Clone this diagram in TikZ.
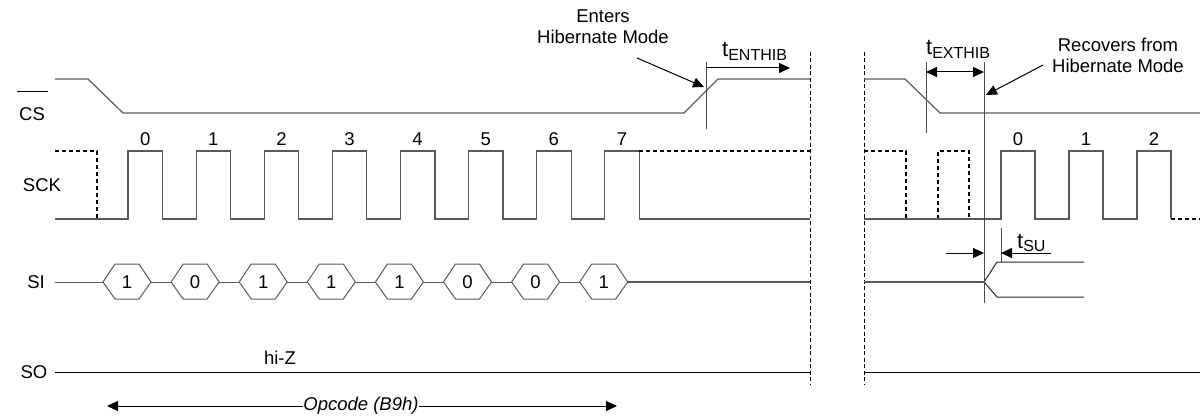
\documentclass[tikz,border=0pt]{standalone}
\usepackage{fontspec}
\setmainfont{Liberation Sans}
\usetikzlibrary{arrows.meta}
\definecolor{wavegray}{HTML}{5A5A5A}
\newcommand{\tsub}[1]{{\fontsize{22}{22}\selectfont t}\raisebox{-0.2em}{\fontsize{16}{16}\selectfont #1}}
\begin{document}
\begin{tikzpicture}[x=1pt,y=-1pt,
  every node/.style={font=\fontsize{18.5}{21}\selectfont, inner sep=0pt},
  wave/.style={draw=wavegray, line width=1.2pt},
  dwave/.style={draw=black, line width=1.1pt, dash pattern=on 4pt off 3pt},
  tline/.style={draw=black!70, line width=1pt},
  arr/.style={draw=black, line width=1pt, -{Triangle[length=11pt,width=10pt]}},
  darr/.style={draw=black, line width=1pt, {Triangle[length=11pt,width=10pt]}-{Triangle[length=11pt,width=10pt]}},
  sep/.style={draw=black, line width=1pt, dash pattern=on 4pt off 2.5pt}]
\useasboundingbox (0,0) rectangle (1200,417);

% signal labels
\node (lcs) at (32,114) {CS};
\draw[black, line width=1pt] (17,92) -- (48,92);
\node (lsck) at (42,185) {SCK};
\node (lsi) at (36,282) {SI};
\node (lso) at (34,372) {SO};

% separators
\draw[sep] (810,52) -- (810,385);
\draw[sep] (864,52) -- (864,385);

% CS waveform
\draw[wave] (55,79) -- (88,79) -- (123,113) -- (684,113) -- (718,79) -- (810,79);
\draw[wave] (864,79) -- (905,79) -- (940,113) -- (1200,113);

% SCK left
\draw[dwave] (55,151) -- (97,151) -- (97,219);
\draw[wave] (55,219)
  \foreach \i in {0,...,7}{ -- ({128+68.1*\i},219) -- ({128+68.1*\i},151) -- ({162.5+68.1*\i},151) -- ({162.5+68.1*\i},219) }
  -- (810,219);
\draw[dwave] (639,151) -- (810,151);
\foreach \i in {0,...,7}{
  \node (n\i) at ({145.2+68.1*\i},139) {\i};
}
% SCK right
\draw[dwave] (864,151) -- (906,151) -- (906,219);
\draw[dwave] (938,219) -- (938,151) -- (969,151) -- (969,219);
\draw[wave] (864,219)
  \foreach \i in {0,1,2}{ -- ({1001+68*\i},219) -- ({1001+68*\i},151) -- ({1035+68*\i},151) -- ({1035+68*\i},219) };
\draw[dwave] (1171,219) -- (1200,219);
\foreach \i in {0,1,2}{
  \node (m\i) at ({1018+68*\i},139) {\i};
}

% SI left
\draw[wave, line width=1pt] (55,282) -- (103,282);
\foreach \b [count=\i from 0] in {1,0,1,1,1,0,0,1}{
  \pgfmathsetmacro{\cx}{127+68.1*\i}
  \draw[wave, line width=1pt] (\cx-24,282) -- (\cx-12,264) -- (\cx+12,264) -- (\cx+24,282) -- (\cx+12,299) -- (\cx-12,299) -- cycle;
  \node (b\i) at (\cx,282) {\b};
}
\foreach \i in {0,...,6}{
  \draw[wave, line width=1pt] ({127+68.1*\i+24},282) -- ({127+68.1*(\i+1)-24},282);
}
\draw[wave] (627.7,282) -- (810,282);

% SI right
\draw[wave] (864,282) -- (984,282);
\draw[black!85, line width=1pt] (1084,262) -- (997,262) -- (984,282) -- (997,297) -- (1084,297);

% SO
\draw[black, line width=1pt] (55,372) -- (810,372);
\draw[black, line width=1pt] (864,372) -- (1200,372);
\node (hiz) at (280,358) {hi-Z};

% Opcode
\node (op) at (361,406) {\itshape Opcode (B9h)};
\coordinate (opL) at (107,406);
\coordinate (opR) at (617,406);
\draw[arr] (op.west) -- (opL);
\draw[arr] (op.east) -- (opR);

% t_ENTHIB
\draw[tline] (706,62) -- (706,129);
\coordinate (entA) at (706,68);
\coordinate (entB) at (790,68);
\draw[arr] (entA) -- (entB);
\node[anchor=base west] (tent) at (722,57) {\tsub{ENTHIB}};
\node[align=center] (enters) at (603,27) {Enters\\Hibernate Mode};
\coordinate (entP) at (637,58);
\coordinate (entQ) at (704,87);
\draw[arr] (entP) -- (entQ);

% t_EXTHIB
\draw[tline] (926,62) -- (926,133);
\draw[tline] (984,62) -- (984,303);
\coordinate (exA) at (926,72);
\coordinate (exB) at (984,72);
\draw[darr] (exA) -- (exB);
\node[anchor=base west] (text) at (926,55) {\tsub{EXTHIB}};
\node[align=center] (recov) at (1118,55) {Recovers from\\Hibernate Mode};
\coordinate (recP) at (1043,65);
\coordinate (recQ) at (986,95);
\draw[arr] (recP) -- (recQ);

% t_SU
\draw[tline] (1001,228) -- (1001,262);
\coordinate (suL0) at (946,253);
\coordinate (suL1) at (984,253);
\coordinate (suR0) at (1051,253);
\coordinate (suR1) at (1001,253);
\draw[arr] (suL0) -- (suL1);
\draw[arr] (suR0) -- (suR1);
\node[anchor=base west] (tsu) at (1017,248) {\tsub{SU}};
\end{tikzpicture}
\end{document}
